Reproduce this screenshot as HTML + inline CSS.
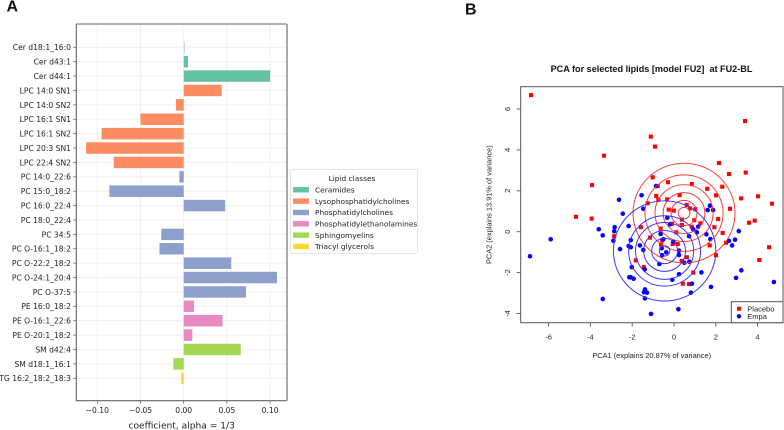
<!DOCTYPE html>
<html>
<head>
<meta charset="utf-8">
<style>
html,body{margin:0;padding:0;background:#fff;width:784px;height:430px;overflow:hidden}
svg{display:block;position:absolute;left:0;top:0;filter:blur(0.3px)}
.dj{font-family:"DejaVu Sans",sans-serif;fill:#222}
.lib{font-family:"Liberation Sans",sans-serif;fill:#222}
</style>
</head>
<body>
<svg id="fig" width="784" height="430" viewBox="0 0 784 430" xmlns="http://www.w3.org/2000/svg">
  <text x="6.5" y="11.5" font-family="Liberation Sans, sans-serif" font-weight="bold" font-size="16" fill="#111">A</text>
  <text x="465" y="14.5" font-family="Liberation Sans, sans-serif" font-weight="bold" font-size="16" fill="#111">B</text>
  <g id="barPanel"></g>
  <g id="legendA"></g>
  <g id="pcaPanel"></g>
</svg>
<script>
// ---------- Panel A data ----------
const lipidNames = ["Cer d18:1_16:0","Cer d43:1","Cer d44:1","LPC 14:0 SN1","LPC 14:0 SN2","LPC 16:1 SN1","LPC 16:1 SN2","LPC 20:3 SN1","LPC 22:4 SN2","PC 14:0_22:6","PC 15:0_18:2","PC 16:0_22:4","PC 18:0_22:4","PC 34:5","PC O-16:1_18:2","PC O-22:2_18:2","PC O-24:1_20:4","PC O-37:5","PE 16:0_18:2","PE O-16:1_22:6","PE O-20:1_18:2","SM d42:4","SM d18:1_16:1","TG 16:2_18:2_18:3"];
const lipidCoefficients = [0.0015,0.005,0.100,0.044,-0.009,-0.050,-0.095,-0.113,-0.081,-0.005,-0.086,0.048,0,-0.026,-0.028,0.055,0.108,0.072,0.012,0.045,0.010,0.066,-0.012,-0.003];
const lipidClassOfBar = [0,0,0,1,1,1,1,1,1,2,2,2,2,2,2,2,2,2,3,3,3,4,4,5];
const lipidClassNames = ["Ceramides","Lysophosphatidylcholines","Phosphatidylcholines","Phosphatidylethanolamines","Sphingomyelins","Triacyl glycerols"];
const coefTicks = [-0.10,-0.05,0.00,0.05,0.10];
// ---------- Panel B data ----------
const placeboPC1 = [-6.84,-3.35,-3.92,3.40,-1.11,-0.91,2.15,2.63,3.43,-1.02,-0.78,-0.29,0.85,1.59,2.31,-4.69,-3.94,-2.86,-0.85,-0.75,-1.26,-0.33,0.27,2.01,3.21,4.02,4.69,2.68,0.61,0.77,1.02,-0.25,-0.01,2.11,0.38,0.97,3.59,3.86,-0.10,0.38,1.26,0.85,1.93,-1.59,-0.64,0.11,2.33,-1.15,-0.56,-0.06,0.18,-0.62,2.49,1.71,4.55,2.01,4.08,-1.83,0.61,0.37,-1.44,0.92,0.42,0.72];
const placeboPC2 = [6.68,3.72,2.28,5.41,4.65,4.16,3.36,2.82,2.89,2.66,2.23,2.42,2.33,2.10,2.20,0.73,0.64,-0.22,1.75,1.56,1.39,1.58,1.79,1.78,1.63,1.73,1.37,1.12,1.31,1.14,1.10,1.08,1.03,0.62,0.59,0.56,0.44,0.54,0.39,0.33,0.41,0.24,0.22,0.22,0.15,-0.03,-0.06,-0.29,-0.41,-0.60,-0.60,-0.62,-0.54,-0.67,-0.76,-1.15,-1.38,-1.40,-1.25,-1.43,-1.73,-2.00,-2.54,-2.56];
const empaPC1 = [-2.63,-2.45,-2.17,-2.84,-3.60,-2.86,-3.41,-2.90,-5.90,-6.89,-2.58,-2.17,-3.41,-2.14,-1.55,-1.47,-0.86,1.72,1.61,1.87,-0.32,-0.19,1.16,0.92,1.09,1.55,3.10,-0.64,0.72,1.74,-2.07,-2.07,2.63,2.92,2.78,-1.63,-1.47,-0.51,-0.03,-0.59,-0.37,-0.57,0.24,0.24,0.49,0.73,-0.70,-2.02,-1.40,1.31,0.24,3.22,2.97,-0.08,-2.07,-1.93,0.86,4.78,1.77,-1.39,-1.44,-1.29,0.81,-1.39,0.21,-1.10];
const empaPC2 = [1.56,0.88,0.28,0.22,0.12,0.02,-0.18,-0.44,-0.37,-1.20,-0.85,-0.70,-3.29,-2.23,1.78,1.12,2.23,1.27,1.06,1.06,0.68,0.36,0.24,0.12,-0.03,-0.13,0.03,-0.11,-0.22,-0.36,-0.41,-0.76,-0.45,-0.39,-0.67,-0.67,-0.89,-0.37,-0.49,-0.81,-1.01,-1.15,-0.93,-1.14,-1.52,-1.47,-1.58,-1.73,-1.84,-1.99,-2.08,-1.89,-2.26,-2.35,-2.23,-2.30,-2.54,-2.46,-2.70,-2.82,-2.96,-2.98,-2.98,-3.26,-3.79,-4.02];
const placeboCenter = [0.48,0.91];
const empaCenter = [-0.45,-0.94];
const placeboRings = [0.28,0.62,1.00,1.39,1.87,2.44];
const empaRings = [0.25,0.62,1.00,1.39,1.72,2.45];
const pc1Ticks = [-6,-4,-2,0,2,4];
const pc2Ticks = [-4,-2,0,2,4,6];

const NS = "http://www.w3.org/2000/svg";
function mk(tag, parent, attrs, txt){
  const e = document.createElementNS(NS, tag);
  for (const k in attrs) e.setAttribute(k, attrs[k]);
  if (txt !== undefined) e.textContent = txt;
  parent.appendChild(e);
  return e;
}
const classColors = ["#66c2a5","#fc8d62","#8da0cb","#e78ac3","#a6d854","#ffd92f"];

// ---------- Panel A ----------
const A = {l:76.3, r:286.7, t:24, b:400.7};
const xA = v => 183.7 + v * 864;
const yA = i => 47.3 + i * 14.39;
const barH = 11.5;
const barG = document.getElementById("barPanel");

coefTicks.forEach(t => {
  const g = mk("line", barG, {x1:xA(t), x2:xA(t), y1:A.t, y2:A.b, stroke:"#eeeeee", "stroke-width":0.8});
  
  
});
lipidNames.forEach((n,i) => {
  const g = mk("line", barG, {x1:A.l, x2:A.r, y1:yA(i), y2:yA(i), stroke:"#eeeeee", "stroke-width":0.8});
  
  
});
lipidCoefficients.forEach((v,i) => {
  const x0 = Math.min(xA(0), xA(v));
  const r = mk("rect", barG, {x:x0, y:yA(i)-barH/2, width:Math.abs(xA(v)-xA(0)), height:barH,
    fill:classColors[lipidClassOfBar[i]]});
  if (i === 0) r.setAttribute("fill-opacity", 0.45);
  
  
});
const frameA = mk("path", barG, {d:`M${A.l} ${A.t}H${A.r}M${A.l} ${A.t}V${A.b}H${A.r}`, fill:"none", stroke:"#666", "stroke-width":1.1});


const rightA = mk("line", barG, {x1:A.r+0.3, x2:A.r+0.3, y1:A.t, y2:A.b, stroke:"#aaa", "stroke-width":2});



lipidNames.forEach((n,i) => {
  const tk = mk("line", barG, {x1:A.l-3, x2:A.l, y1:yA(i), y2:yA(i), stroke:"#555", "stroke-width":0.7});
  
  
  const t = mk("text", barG, {class:"dj", x:71, y:yA(i)+2.9, "text-anchor":"end", "font-size":7.6}, n);
  
  
});
coefTicks.forEach(v => {
  const tk = mk("line", barG, {x1:xA(v), x2:xA(v), y1:A.b, y2:A.b+3, stroke:"#555", "stroke-width":0.7});
  
  
  const label = (v < 0 ? "\u2212" : "") + Math.abs(v).toFixed(2);
  const t = mk("text", barG, {class:"dj", x:xA(v), y:413, "text-anchor":"middle", "font-size":7.6}, label);
  
  
});
const xTitleA = mk("text", barG, {class:"dj", x:181.7, y:428.5, "text-anchor":"middle", "font-size":9.1}, "coefficient, alpha = 1/3");



// Legend
const lg = document.getElementById("legendA");
const lgBox = mk("rect", lg, {x:290.5, y:169.5, width:127, height:84, rx:2, fill:"#fff", stroke:"#dddddd", "stroke-width":0.8});


const lgTitle = mk("text", lg, {class:"dj", x:352, y:181, "text-anchor":"middle", "font-size":7.4}, "Lipid classes");


lipidClassNames.forEach((n,i) => {
  const yy = 189.7 + i * 11.33;
  const s = mk("rect", lg, {x:293, y:yy-2.6, width:16, height:5.4, fill:classColors[i]});
  
  
  const t = mk("text", lg, {class:"dj", x:315, y:yy+2.8, "font-size":7.4}, n);
  
  
});

// ---------- Panel B ----------
const B = {l:520.7, r:783, t:86.7, b:322.7};
const xB = v => 674 + v * 20.9;
const yB = v => 231.7 - v * 20.45;
const pg = document.getElementById("pcaPanel");

const titleB = mk("text", pg, {x:651.5, y:72, "text-anchor":"middle", "font-size":9.1, "font-weight":"bold", "font-family":"Liberation Sans, sans-serif", fill:"#111"}, "PCA for selected lipids [model FU2]  at FU2-BL");
titleB.style.whiteSpace = "pre";



placeboPC1.forEach((v,i) => {
  const s = 4.1;
  const r = mk("rect", pg, {x:xB(v)-s/2, y:yB(placeboPC2[i])-s/2, width:s, height:s, fill:"#f00"});
  
  
});
empaPC1.forEach((v,i) => {
  const c = mk("circle", pg, {cx:xB(v), cy:yB(empaPC2[i]), r:2.3, fill:"#00f"});
  
  
});
placeboRings.forEach(rad => {
  const e = mk("ellipse", pg, {cx:xB(placeboCenter[0]), cy:yB(placeboCenter[1]), rx:xB(rad)-xB(0), ry:yB(0)-yB(rad), fill:"none", stroke:"#f33", "stroke-width":0.95});
  
  
});
empaRings.forEach(rad => {
  const e = mk("ellipse", pg, {cx:xB(empaCenter[0]), cy:yB(empaCenter[1]), rx:xB(rad)-xB(0), ry:yB(0)-yB(rad), fill:"none", stroke:"#33f", "stroke-width":0.95});
  
  
});
const frameB = mk("rect", pg, {x:B.l, y:B.t, width:B.r-B.l, height:B.b-B.t, fill:"none", stroke:"#555", "stroke-width":1});



pc1Ticks.forEach(v => {
  const tk = mk("line", pg, {x1:xB(v), x2:xB(v), y1:B.b, y2:B.b+4, stroke:"#555", "stroke-width":0.9});
  
  
  const t = mk("text", pg, {class:"lib", x:xB(v), y:339.5, "text-anchor":"middle", "font-size":7.5}, v < 0 ? "-" + Math.abs(v) : String(v));
  
  
});
pc2Ticks.forEach(v => {
  const tk = mk("line", pg, {x1:B.l-4, x2:B.l, y1:yB(v), y2:yB(v), stroke:"#555", "stroke-width":0.9});
  
  
  const t = mk("text", pg, {class:"lib", x:0, y:0, "text-anchor":"middle", "font-size":7.5, transform:`translate(510,${yB(v)}) rotate(-90)`}, v < 0 ? "-" + Math.abs(v) : String(v));
  
  
});
const xTitleB = mk("text", pg, {class:"lib", x:651.7, y:358, "text-anchor":"middle", "font-size":7.4}, "PCA1 (explains 20.87% of variance)");


const yTitleB = mk("text", pg, {class:"lib", x:0, y:0, "text-anchor":"middle", "font-size":7.4, transform:"translate(491.5,204.7) rotate(-90)"}, "PCA2 (explains 13.91% of variance)");



const lb = mk("rect", pg, {x:731.3, y:301.7, width:51.7, height:21, fill:"#fff", stroke:"#555", "stroke-width":1});


const ls1 = mk("rect", pg, {x:737, y:306.7, width:4, height:4, fill:"#f00"});


const lt1 = mk("text", pg, {class:"lib", x:747.3, y:311.3, "font-size":7.5}, "Placebo");


const ls2 = mk("circle", pg, {cx:739, cy:316.3, r:2.2, fill:"#00f"});


const lt2 = mk("text", pg, {class:"lib", x:747.3, y:319, "font-size":7.5}, "Empa");


</script>
</body>
</html>
